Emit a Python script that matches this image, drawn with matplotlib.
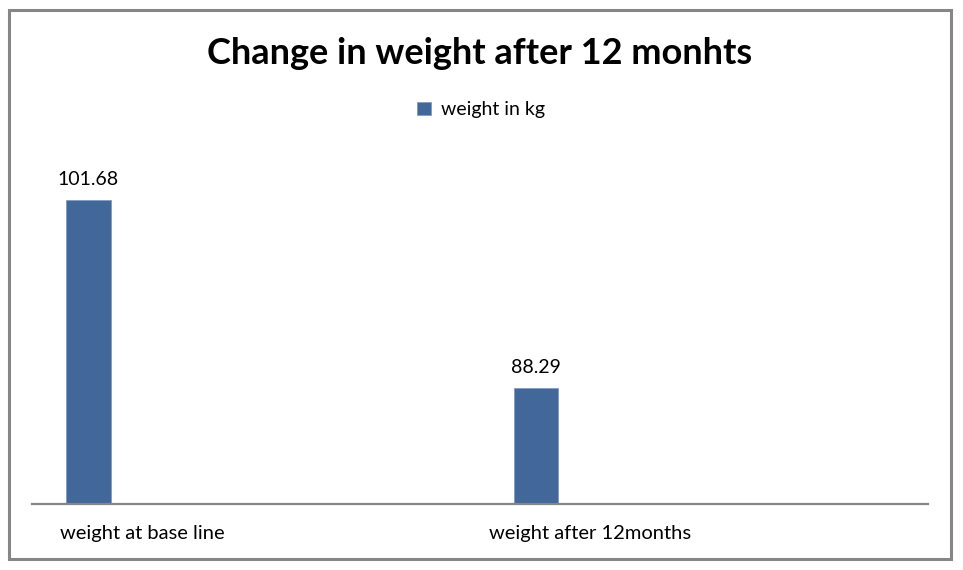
import matplotlib.pyplot as plt
from matplotlib.patches import Rectangle
import numpy as np

categories = ["weight at base line", "weight after 12months"]
weights = [101.68, 88.29]
series_name = "weight in kg"

plt.rcParams['font.family'] = ['Lato', 'DejaVu Sans']

fig = plt.figure(figsize=(9.63, 5.70), dpi=100)
W, H = 963, 570

# outer chart frame
fig.patches.append(Rectangle((9 / W, 11 / H), 942 / W, 549 / H, transform=fig.transFigure,
                             fill=False, edgecolor="#868686", linewidth=2.2))

ax = fig.add_axes([32 / W, 66 / H, 896 / W, 351 / H])
x = np.arange(len(categories))
bars = ax.bar(x, weights, width=0.1, color="#416899", edgecolor="#7f9cc2", linewidth=0.6,
              label=series_name)
ax.set_ylim(80, 105)
ax.set_xlim(-0.126, 1.876)

for xi, v in zip(x, weights):
    ax.text(xi, v + 0.85, f"{v:.2f}", ha="center", va="bottom", fontsize=14, color="black")

ax.set_xticks(x + 0.12)
ax.set_xticklabels(categories, fontsize=14.5)
ax.tick_params(axis="x", length=0, pad=15)
ax.set_yticks([])
for s in ["top", "left", "right"]:
    ax.spines[s].set_visible(False)
ax.spines["bottom"].set_color("#868686")
ax.spines["bottom"].set_linewidth(1.6)

fig.text(480 / W, 1 - 53 / H, "Change in weight after 12 monhts", ha="center", va="center",
         fontsize=26, fontweight="bold")

fig.legend(handles=[bars], labels=[series_name], loc="center", bbox_to_anchor=(481 / W, 1 - 110 / H),
           frameon=False, fontsize=14, handlelength=0.7, handleheight=0.7, handletextpad=0.5)

fig.savefig("out.png", dpi=100)
